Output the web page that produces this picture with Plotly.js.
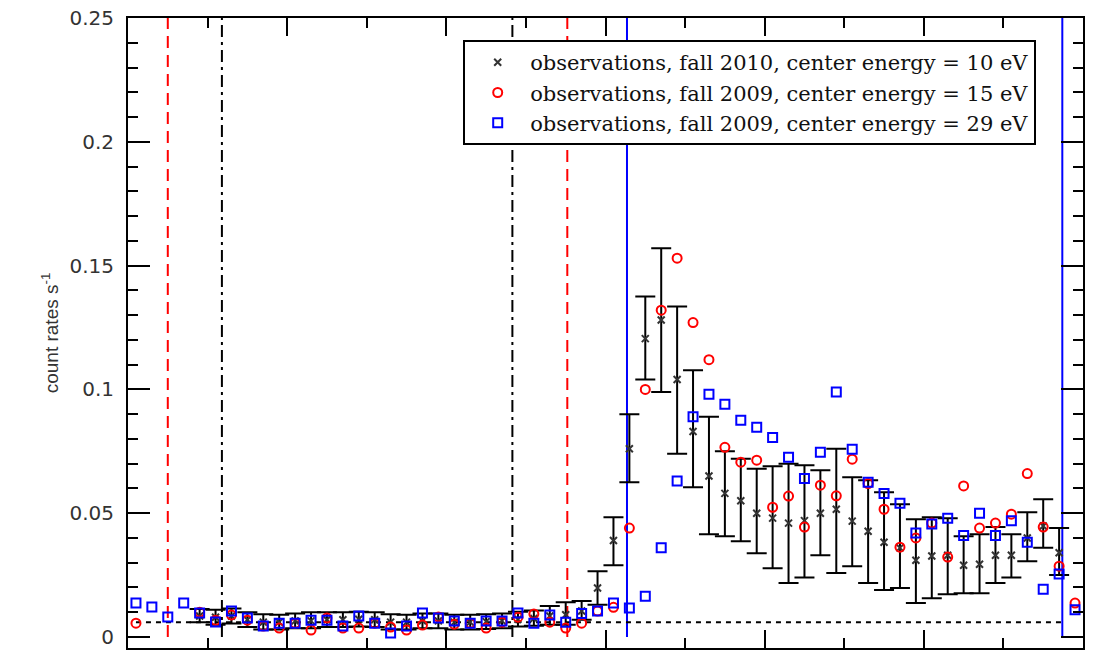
<!DOCTYPE html>
<html>
<head>
<meta charset="utf-8">
<script src="https://cdn.plot.ly/plotly-3.0.1.min.js"></script>
<style>html,body{margin:0;padding:0;background:#fff;}#chart{width:1100px;height:650px;}</style>
</head>
<body>
<div id="chart"></div>
<script>
// x positions of the observation bins
const xBins = [0.1,0.3,0.5,0.7,0.9,1.1,1.3,1.5,1.7,1.9,2.1,2.3,2.5,2.7,2.9,3.1,3.3,3.5,3.7,3.9,
  4.1,4.3,4.5,4.7,4.9,5.1,5.3,5.5,5.7,5.9,6.1,6.3,6.5,6.7,6.9,7.1,7.3,7.5,7.7,7.9,
  8.1,8.3,8.5,8.7,8.9,9.1,9.3,9.5,9.7,9.9,10.1,10.3,10.5,10.7,10.9,11.1,11.3,11.5,11.7,11.9];

// fall 2010, center energy = 10 eV (with error bars)
const obs2010_10eV = [null,null,null,null,0.0085,0.008,0.0085,0.007,0.006,0.006,
  0.0065,0.0065,0.007,0.007,0.0072,0.007,0.006,0.006,0.0065,0.0065,
  0.006,0.006,0.0062,0.0065,0.0072,0.0075,0.0085,0.009,0.0105,0.0198,
  0.039,0.076,0.1205,0.128,0.104,0.083,0.065,0.058,0.055,0.050,
  0.048,0.046,0.047,0.050,0.0516,0.0468,0.0427,0.0383,0.036,0.031,
  0.0327,0.033,0.029,0.0294,0.033,0.033,0.040,0.0448,0.034,null];
const err2010_plus = [0,0,0,0,0.0028,0.003,0.003,0.003,0.0032,0.003,
  0.003,0.0035,0.003,0.003,0.003,0.003,0.0032,0.003,0.003,0.003,
  0.003,0.003,0.003,0.003,0.003,0.0032,0.004,0.005,0.004,0.0068,
  0.0094,0.014,0.017,0.029,0.0295,0.0247,0.024,0.017,0.017,0.018,
  0.021,0.024,0.0224,0.0173,0.0244,0.0177,0.0206,0.0202,0.0176,0.0166,
  0.0157,0.015,0.0117,0.0121,0.0114,0.0085,0.0104,0.0108,0.010,0];
const err2010_minus = [0,0,0,0,0.0025,0.003,0.003,0.003,0.003,0.003,
  0.003,0.003,0.003,0.003,0.003,0.003,0.003,0.003,0.003,0.003,
  0.003,0.003,0.003,0.003,0.003,0.003,0.0035,0.004,0.0035,0.0068,
  0.010,0.0135,0.0165,0.029,0.030,0.0225,0.0235,0.0173,0.0163,0.0162,
  0.0202,0.0242,0.023,0.017,0.0258,0.0182,0.0209,0.0193,0.0162,0.0173,
  0.017,0.0157,0.0113,0.0117,0.0112,0.009,0.0094,0.0088,0.009,0];

// fall 2009, center energy = 15 eV
const obs2009_15eV = [0.0056,null,null,null,0.010,0.0068,0.0089,0.0068,0.0044,0.0036,
  0.0056,0.0028,0.0077,0.0036,0.0036,0.0056,0.004,0.0028,0.0048,0.0081,
  0.0052,0.0056,0.0036,0.006,0.008,0.0093,0.006,0.0036,0.0056,0.0105,
  0.012,0.044,0.100,0.132,0.153,0.127,0.112,0.0766,0.0706,0.0714,
  0.0524,0.0569,0.0444,0.0613,0.057,0.0718,0.062,0.0516,0.0363,0.040,
  0.046,0.0323,0.061,0.044,0.046,0.0496,0.066,0.0444,0.0286,0.0137];

// fall 2009, center energy = 29 eV
const obs2009_29eV = [0.0137,0.0121,0.0081,0.0137,0.0097,0.0061,0.0105,0.0077,0.0044,0.0056,
  0.0056,0.0068,0.0068,0.0044,0.0085,0.0056,0.0016,0.0044,0.0097,0.0077,
  0.0065,0.0056,0.0065,0.0065,0.0097,0.0056,0.0089,0.006,0.0095,0.0105,
  0.0137,0.0117,0.0165,0.036,0.063,0.089,0.098,0.094,0.0875,0.0847,
  0.0806,0.0726,0.064,0.0746,0.099,0.0758,0.0625,0.058,0.054,0.042,
  0.0456,0.048,0.041,0.050,0.041,0.047,0.0383,0.0193,0.0254,0.011];

const seriesNames = [
  'observations, fall 2010, center energy = 10 eV',
  'observations, fall 2009, center energy = 15 eV',
  'observations, fall 2009, center energy = 29 eV'
];

// reference lines
const redDashedX = [0.5, 5.52];
const blackDashDotX = [1.18, 4.83];
const blueSolidX = [6.27, 11.74];
const baselineLevel = 0.006;
const baselineSpan = [0.1, 11.74];
const yTop = 0.25;

const traces = [
  {
    x: xBins, y: obs2010_10eV, name: seriesNames[0], type: 'scatter', mode: 'markers',
    marker: {symbol: 'x-thin', size: 7, color: '#333', line: {color: '#333', width: 2}},
    error_y: {type: 'data', symmetric: false, array: err2010_plus, arrayminus: err2010_minus,
      color: '#000', thickness: 2, width: 10},
    cliponaxis: false
  },
  {
    x: xBins, y: obs2009_15eV, name: seriesNames[1], type: 'scatter', mode: 'markers',
    marker: {symbol: 'circle-open', size: 9, color: '#ff0000', line: {color: '#ff0000', width: 2}},
    cliponaxis: false
  },
  {
    x: xBins, y: obs2009_29eV, name: seriesNames[2], type: 'scatter', mode: 'markers',
    marker: {symbol: 'square-open', size: 9, color: '#0000ff', line: {color: '#0000ff', width: 2}},
    cliponaxis: false
  }
];

const shapes = [];
redDashedX.forEach(v => shapes.push({type: 'line', xref: 'x', yref: 'y', x0: v, x1: v, y0: 0, y1: yTop,
  line: {color: '#ff0000', width: 2, dash: '12px,7px'}, layer: 'below'}));
blackDashDotX.forEach(v => shapes.push({type: 'line', xref: 'x', yref: 'y', x0: v, x1: v, y0: 0, y1: yTop,
  line: {color: '#000', width: 2, dash: '12px,5px,3px,5px'}, layer: 'below'}));
blueSolidX.forEach(v => shapes.push({type: 'line', xref: 'x', yref: 'y', x0: v, x1: v, y0: 0, y1: yTop,
  line: {color: '#0000ff', width: 2}, layer: 'below'}));
shapes.push({type: 'line', xref: 'x', yref: 'y', x0: baselineSpan[0], x1: baselineSpan[1],
  y0: baselineLevel, y1: baselineLevel, line: {color: '#000', width: 2, dash: '5px,5px'}, layer: 'below'});

const layout = {
  width: 1100, height: 650,
  margin: {l: 128, r: 17, t: 18, b: 2, pad: 0},
  paper_bgcolor: '#fff', plot_bgcolor: '#fff',
  showlegend: true,
  legend: {
    x: 0.351, y: 0.965, xanchor: 'left', yanchor: 'top',
    bgcolor: '#fff', bordercolor: '#000', borderwidth: 2,
    font: {family: 'DejaVu Serif, Liberation Serif, serif', size: 21, color: '#111'},
    tracegroupgap: 0, itemwidth: 55
  },
  xaxis: {
    range: [0, 12], showgrid: false, zeroline: false,
    showline: true, linecolor: '#000', linewidth: 2, mirror: 'ticks',
    ticks: 'inside', ticklen: 18, tickwidth: 2, tickcolor: '#000',
    tick0: 0, dtick: 2, showticklabels: false,
    minor: {ticks: 'inside', dtick: 1, ticklen: 10, tickwidth: 2, tickcolor: '#000', showgrid: false}
  },
  yaxis: {
    range: [-0.00444, 0.25], showgrid: false, zeroline: false,
    showline: true, linecolor: '#000', linewidth: 2, mirror: 'ticks',
    ticks: 'inside', ticklen: 22, tickwidth: 2, tickcolor: '#000',
    tick0: 0, dtick: 0.05, ticklabelstandoff: 8,
    tickfont: {family: 'DejaVu Sans, sans-serif', size: 20, color: '#333'},
    minor: {ticks: 'inside', dtick: 0.01, ticklen: 10, tickwidth: 2, tickcolor: '#000', showgrid: false},
    title: {text: 'count rates s<sup>-1</sup>', standoff: 6,
      font: {family: 'Liberation Sans, Arial, sans-serif', size: 19, color: '#333'}}
  },
  shapes: shapes
};

Plotly.newPlot('chart', traces, layout, {displayModeBar: false, staticPlot: true});
</script>
</body>
</html>
